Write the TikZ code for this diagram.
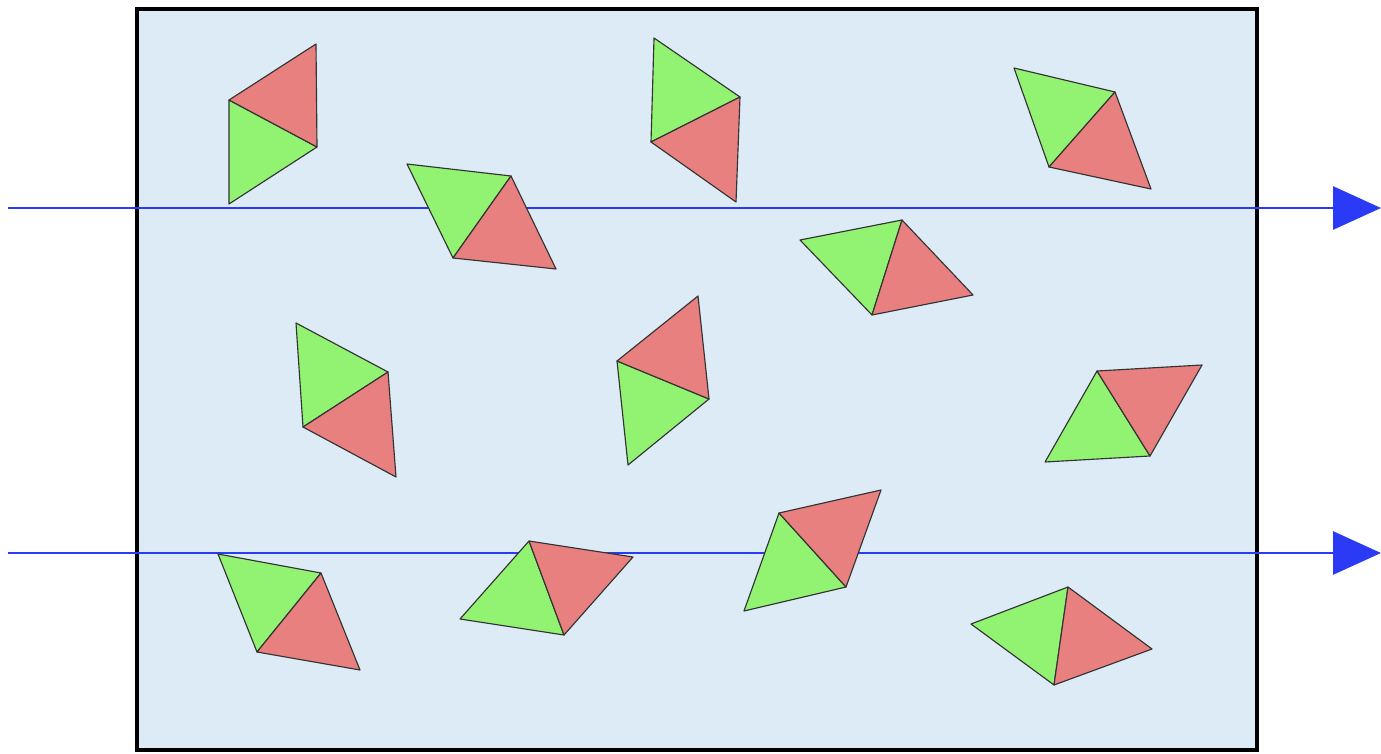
\documentclass[tikz,border=0pt]{standalone}
\usepackage{tikz}
\usetikzlibrary{arrows.meta}
\definecolor{cellbg}{HTML}{DDEBF6}
\definecolor{halfgreen}{HTML}{92F272}
\definecolor{halfred}{HTML}{E88080}
\definecolor{beam}{HTML}{2B3BF5}

\begin{document}
\begin{tikzpicture}[x=0.02cm, y=-0.02cm,
    cell/.style={draw=black, line width=2pt, fill=cellbg},
    ray/.style={draw=beam, line width=1.6pt, -{Triangle[length=0.96cm, width=0.86cm]}},
    greenhalf/.style={draw=black!80, line width=0.65pt, fill=halfgreen, line join=round},
    redhalf/.style={draw=black!80, line width=0.65pt, fill=halfred, line join=round}]
    \useasboundingbox (0,0) rectangle (1381,753);
    % Box
    \draw[cell] (137,9) rectangle (1257,750);
    % Rays
    \coordinate (in1) at (8,208);
    \coordinate (out1) at (1381,208);
    \coordinate (in2) at (8,553);
    \coordinate (out2) at (1381,553);
    \draw[ray] (in1) -- (out1);
    \draw[ray] (in2) -- (out2);
    % Rhombi: shared edge a-b, green apex g, red apex r
    \foreach \ax/\ay/\bx/\by/\gx/\gy/\rx/\ry in {
        229/100/317/147/229/204/316/44,
        511/176/453/258/407/164/556/269,
        740/97/651/142/654/38/736/202,
        1115/92/1049/167/1014/68/1151/189,
        902/220/872/315/800/240/973/295,
        388/372/303/427/296/323/396/477,
        617/361/709/399/628/465/698/296,
        1097/371/1150/456/1045/462/1202/365,
        321/573/257/652/218/554/360/670,
        529/541/564/635/460/619/633/557,
        779/513/846/587/744/611/881/490,
        1068/587/1054/685/971/624/1152/649} {
      \draw[greenhalf] (\ax,\ay) -- (\bx,\by) -- (\gx,\gy) -- cycle;
      \draw[redhalf] (\ax,\ay) -- (\bx,\by) -- (\rx,\ry) -- cycle;
    }
\end{tikzpicture}
\end{document}
